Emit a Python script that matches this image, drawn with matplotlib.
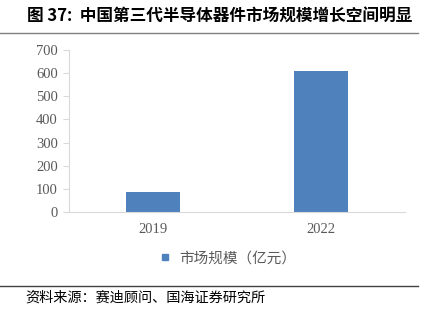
import matplotlib
matplotlib.use('Agg')
import matplotlib.pyplot as plt
from matplotlib.lines import Line2D

plt.rcParams['font.family'] = ['Noto Sans CJK SC', 'DejaVu Sans']

years = ['2019', '2022']
market_size = [86, 609]
series_name = '市场规模（亿元）'
title = '图 37:  中国第三代半导体器件市场规模增长空间明显'
source = '资料来源：赛迪顾问、国海证券研究所'
bar_color = '#4F81BD'
grey = '#595959'

fig = plt.figure(figsize=(4.29, 3.16), dpi=100)
ax = fig.add_axes([0.161, 0.329, 0.783, 0.513])

x = range(len(years))
ax.bar(x, market_size, width=0.32, color=bar_color)
ax.set_xlim(-0.5, 1.5)
ax.set_ylim(0, 700)
ax.set_yticks(range(0, 701, 100))
ax.set_xticks(list(x))
ax.set_xticklabels(years)

for s in ['top', 'right']:
    ax.spines[s].set_visible(False)
for s in ['left', 'bottom']:
    ax.spines[s].set_color('#D9D9D9')
ax.tick_params(axis='y', length=4, color='#D9D9D9', labelcolor=grey, pad=4)
ax.tick_params(axis='x', length=0, labelcolor=grey, pad=8)
for lab in ax.get_xticklabels() + ax.get_yticklabels():
    lab.set_family('Liberation Serif')
    lab.set_fontsize(10.5)

handle = Line2D([], [], marker='s', linestyle='none', color=bar_color, markersize=5)
fig.legend([handle], [series_name], loc='center', bbox_to_anchor=(0.52, 0.183),
           frameon=False, fontsize=10.5, handletextpad=0.0, labelcolor=grey)

fig.text(0.063, 0.948, title, fontsize=12, fontweight='bold', va='center')
fig.add_artist(Line2D([0, 0.975], [0.895, 0.895], color='#808080', lw=1))
fig.add_artist(Line2D([0, 0.975], [0.095, 0.095], color='#404040', lw=1))
fig.text(0.058, 0.057, source, fontsize=10.2, va='center')

fig.savefig('out.png', dpi=100)
